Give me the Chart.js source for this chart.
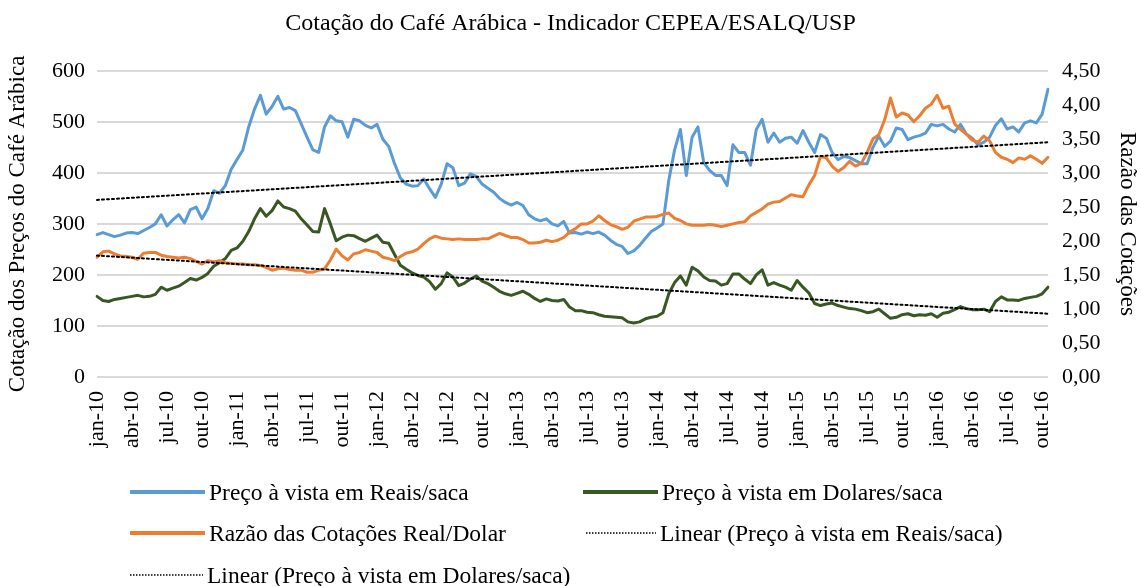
<!DOCTYPE html>
<html>
<head>
<meta charset="utf-8">
<script src="https://cdn.jsdelivr.net/npm/chart.js@4.4.1/dist/chart.umd.min.js"></script>
<style>
  body { margin: 0; background: #fff; }
  #wrap { position: relative; width: 1141px; height: 586px; }
  .leg { position: absolute; font-family: 'Liberation Serif', serif; font-size: 23.5px; color: #000; white-space: nowrap; display: flex; align-items: center; }
  .leg svg { margin-right: 4px; }
</style>
</head>
<body>
<div id="wrap">
  <canvas id="grafico" width="1141" height="586"></canvas>
  <div id="legenda"></div>
</div>
<script>
// meio-mes a meio-mes, jan-10 ate nov-16
const meses = ['jan','fev','mar','abr','mai','jun','jul','ago','set','out','nov','dez'];
const anos = ['10','11','12','13','14','15','16'];

const reais = [
  279, 283, 279, 275, 278, 282, 283, 281, 287, 293, 300, 318, 296, 308, 318, 302, 328, 333, 310, 330, 365, 360, 375, 407,
  426, 445, 490, 525, 552, 515, 530, 550, 525, 528, 522, 496, 470, 445, 440, 490, 512, 502, 500, 470, 505, 502, 493, 488,
  495, 466, 452, 418, 390, 378, 374, 375, 388, 369, 352, 378, 418, 410, 375, 380, 398, 393, 378, 370, 362, 350, 342, 337,
  342, 336, 318, 310, 306, 310, 300, 296, 305, 282, 283, 280, 284, 281, 284, 278, 268, 260, 256, 242, 247, 258, 272, 285,
  292, 300, 385, 445, 485, 395, 470, 490, 420, 405, 395, 395, 375, 455, 440, 440, 415, 485, 505, 460, 478, 460, 468, 470,
  458, 483, 460, 440, 475, 468, 440, 426, 432, 430, 424, 418, 418, 450, 472, 452, 462, 488, 485, 465, 470, 473, 478, 495,
  492, 495, 486, 480, 495, 476, 468, 455, 460, 470, 493, 506, 486, 490, 480, 498, 502, 498, 515, 564
];
const dolares = [
  158, 150, 148, 152, 154, 156, 158, 160, 157, 158, 162, 176, 170, 174, 178, 185, 193, 190, 195, 203, 217, 224, 232, 248,
  253, 266, 285, 310, 330, 315, 326, 345, 333, 330, 325, 310, 298, 285, 284, 330, 300, 267, 274, 278, 277, 271, 266, 272,
  278, 264, 262, 240, 219, 211, 204, 199, 196, 187, 172, 183, 204, 196, 179, 184, 192, 198, 188, 183, 176, 168, 163, 160,
  164, 168, 162, 154, 148, 153, 150, 149, 152, 137, 130, 130, 127, 126, 122, 119, 118, 117, 116, 108, 106, 108, 114, 117,
  119, 126, 163, 185, 198, 180, 215, 208, 196, 189, 188, 180, 183, 202, 202, 192, 183, 200, 210, 180, 185, 180, 176, 170,
  189, 176, 165, 144, 140, 143, 145, 140, 137, 134, 133, 130, 126, 128, 133, 124, 115, 117, 122, 124, 120, 122, 121, 124,
  117, 125, 127, 132, 138, 134, 132, 132, 133, 128, 148, 157, 151, 151, 150, 154, 156, 158, 163, 176
];
const razao = [
  1.76, 1.84, 1.85, 1.81, 1.78, 1.77, 1.76, 1.73, 1.82, 1.83, 1.83, 1.79, 1.77, 1.76, 1.75, 1.76, 1.74, 1.70, 1.66, 1.71, 1.69, 1.71, 1.68, 1.67,
  1.66, 1.66, 1.65, 1.65, 1.64, 1.61, 1.57, 1.59, 1.60, 1.58, 1.57, 1.57, 1.54, 1.54, 1.57, 1.59, 1.72, 1.88, 1.78, 1.72, 1.81, 1.83, 1.87, 1.85,
  1.83, 1.76, 1.74, 1.71, 1.77, 1.82, 1.84, 1.88, 1.96, 2.03, 2.07, 2.04, 2.03, 2.02, 2.03, 2.02, 2.02, 2.02, 2.03, 2.03, 2.07, 2.11, 2.08, 2.05,
  2.05, 2.02, 1.97, 1.97, 1.98, 2.01, 1.99, 2.01, 2.05, 2.13, 2.18, 2.25, 2.25, 2.29, 2.37, 2.30, 2.24, 2.21, 2.17, 2.20, 2.29, 2.32, 2.35, 2.35,
  2.36, 2.39, 2.41, 2.33, 2.30, 2.25, 2.23, 2.23, 2.23, 2.24, 2.23, 2.21, 2.23, 2.25, 2.27, 2.28, 2.37, 2.42, 2.47, 2.54, 2.57, 2.58, 2.63, 2.68,
  2.66, 2.65, 2.82, 2.96, 3.24, 3.22, 3.10, 3.02, 3.08, 3.17, 3.10, 3.14, 3.30, 3.50, 3.56, 3.78, 4.10, 3.82, 3.88, 3.85, 3.75, 3.84, 3.95, 4.01,
  4.14, 3.95, 3.98, 3.72, 3.64, 3.57, 3.48, 3.45, 3.54, 3.47, 3.30, 3.23, 3.20, 3.15, 3.22, 3.20, 3.25, 3.20, 3.14, 3.23
];
// tendencias lineares: inicio e fim
const tendReais = [347, 460];
const tendDolares = [238, 124];

const categorias = [];
anos.forEach(a => meses.forEach(m => {
  categorias.push(m + '-' + a);
  categorias.push(m + '-' + a + ' (2)');
}));
categorias.length = reais.length;
const ultimo = categorias[categorias.length - 1];

const azul = '#5B9BD5', verde = '#385723', laranja = '#ED7D31';
const fonte = 'Liberation Serif';

const ctx = document.getElementById('grafico');
new Chart(ctx, {
  type: 'line',
  data: {
    labels: categorias,
    datasets: [
      { label: 'Preço à vista em Reais/saca', data: reais, borderColor: azul, yAxisID: 'y', order: 4 },
      { label: 'Preço à vista em Dolares/saca', data: dolares, borderColor: verde, yAxisID: 'y', order: 3 },
      { label: 'Razão das Cotações Real/Dolar', data: razao, borderColor: laranja, yAxisID: 'y1', order: 2 },
      { label: 'Linear (Preço à vista em Reais/saca)',
        data: [{ x: categorias[0], y: tendReais[0] }, { x: ultimo, y: tendReais[1] }],
        borderColor: '#000', borderWidth: 2, borderDash: [2, 3], yAxisID: 'y', order: 1 },
      { label: 'Linear (Preço à vista em Dolares/saca)',
        data: [{ x: categorias[0], y: tendDolares[0] }, { x: ultimo, y: tendDolares[1] }],
        borderColor: '#000', borderWidth: 2, borderDash: [2, 3], yAxisID: 'y', order: 0 }
    ]
  },
  options: {
    responsive: false,
    animation: false,
    layout: { padding: { left: 0, right: 0, top: 0, bottom: 109 } },
    elements: { point: { radius: 0 }, line: { tension: 0, borderWidth: 3, borderCapStyle: 'round', borderJoinStyle: 'round' } },
    plugins: {
      legend: { display: false },
      tooltip: { enabled: false },
      title: {
        display: true,
        text: 'Cotação do Café Arábica - Indicador CEPEA/ESALQ/USP',
        color: '#000',
        font: { family: fonte, size: 24, weight: 'normal' },
        padding: { top: 9, bottom: 33 }
      }
    },
    scales: {
      x: {
        type: 'category',
        grid: { display: false },
        border: { display: false },
        afterFit: s => { s.height = 100; },
        ticks: {
          autoSkip: false, minRotation: 90, maxRotation: 90, padding: 6,
          color: '#000', font: { family: fonte, size: 22 },
          callback: (v, i) => (i % 6 === 0 ? categorias[i] : null)
        }
      },
      y: {
        position: 'left', min: 0, max: 600,
        afterFit: s => { s.width = 97; },
        grid: { color: '#d9d9d9', lineWidth: 2, drawTicks: false },
        border: { display: false },
        ticks: { stepSize: 100, padding: 12, color: '#000', font: { family: fonte, size: 22 } },
        title: { display: true, text: 'Cotação dos Preços do Café Arábica', color: '#000',
                 font: { family: fonte, size: 23 }, padding: { top: 4, bottom: 0 } }
      },
      y1: {
        position: 'right', min: 0, max: 4.5,
        afterFit: s => { s.width = 93; },
        grid: { display: false, drawTicks: false },
        border: { display: false },
        ticks: { stepSize: 0.5, padding: 14, color: '#000', font: { family: fonte, size: 22 },
                 callback: v => v.toFixed(2).replace('.', ',') },
        title: { display: true, text: 'Razão das Cotações', color: '#000',
                 font: { family: fonte, size: 23 }, padding: { top: 0, bottom: 0 } }
      }
    }
  }
});

// legenda em duas colunas, como no original
const itens = [
  { txt: 'Preço à vista em Reais/saca', cor: azul, x: 130, y: 492, w: 75 },
  { txt: 'Preço à vista em Dolares/saca', cor: verde, x: 583, y: 492, w: 75 },
  { txt: 'Razão das Cotações Real/Dolar', cor: laranja, x: 130, y: 533, w: 75 },
  { txt: 'Linear (Preço à vista em Reais/saca)', cor: '#000', x: 586, y: 533, w: 70, pont: true },
  { txt: 'Linear (Preço à vista em Dolares/saca)', cor: '#000', x: 130, y: 575, w: 73, pont: true }
];
const leg = document.getElementById('legenda');
itens.forEach(it => {
  const d = document.createElement('div');
  d.className = 'leg';
  d.style.left = it.x + 'px';
  d.style.top = (it.y - 15) + 'px';
  d.style.height = '30px';
  const traco = it.pont
    ? `<line x1="0" y1="4" x2="${it.w}" y2="4" stroke="#000" stroke-width="1.5" stroke-dasharray="1.5 1.5"/>`
    : `<line x1="0" y1="4" x2="${it.w}" y2="4" stroke="${it.cor}" stroke-width="4"/>`;
  d.innerHTML = `<svg width="${it.w}" height="8">${traco}</svg><span>${it.txt}</span>`;
  leg.appendChild(d);
});
</script>
</body>
</html>
